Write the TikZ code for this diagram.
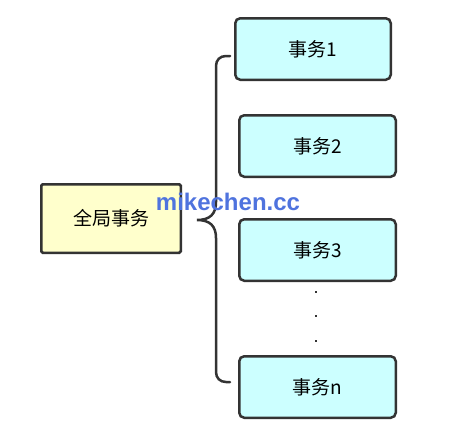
\documentclass[tikz,border=0pt]{standalone}
\usepackage{fontspec}
\setmainfont{Noto Sans CJK SC}
\newfontfamily\wmfont{Liberation Sans}
\definecolor{boxline}{RGB}{51,51,51}
\definecolor{globalfill}{RGB}{255,255,204}
\definecolor{txfill}{RGB}{204,255,255}
\definecolor{wmblue}{RGB}{79,115,222}

\begin{document}
\begin{tikzpicture}[x=1pt,y=-1pt,
  globalbox/.style={draw=boxline,line width=2.5pt,fill=globalfill,rounded corners=1.5pt,
    minimum width=139.5pt,minimum height=68.5pt,inner sep=0pt,font=\fontsize{19}{22}\selectfont},
  txbox/.style={draw=boxline,line width=2.5pt,fill=txfill,rounded corners=5pt,
    minimum width=156.5pt,minimum height=61.5pt,inner sep=0pt,font=\fontsize{19}{22}\selectfont},
  dotmark/.style={fill=boxline,inner sep=0pt,minimum size=2pt}]
  \useasboundingbox (0,0) rectangle (450,439);
  \node[globalbox] (g) at (111,218.5) {全局事务};
  \node[txbox,minimum width=155.5pt] (t1) at (313,49) {事务1};
  \node[txbox] (t2) at (317.5,146) {事务2};
  \node[txbox] (t3) at (317.5,250) {事务3};
  \node[txbox] (tn) at (317.5,387) {事务n};
  % dots between 3 and n
  \node[dotmark] (d1) at (316,292) {};
  \node[dotmark] (d2) at (316,316) {};
  \node[dotmark] (d3) at (316,341) {};
  % brace
  \coordinate (btop) at (230,56);
  \coordinate (btip) at (197,220);
  \coordinate (bbot) at (230,382);
  \draw[boxline,line width=2.5pt,line cap=round]
    (btop) -- (226,56) .. controls (220,56) and (216,60) .. (216,66)
    -- (216,202) .. controls (216,214) and (210,220) .. (btip)
    .. controls (210,220) and (216,226) .. (216,238)
    -- (216,372) .. controls (216,378) and (220,382) .. (226,382) -- (bbot);
  \node[wmblue,font=\wmfont\bfseries\fontsize{24}{28}\selectfont,inner sep=0pt,anchor=base] (wm) at (228,210) {mikechen.cc};
\end{tikzpicture}
\end{document}
